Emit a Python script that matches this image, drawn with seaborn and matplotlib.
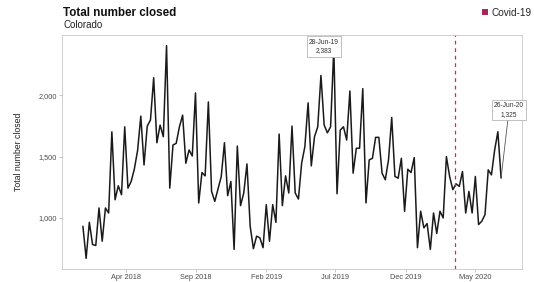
"""
Weekly total number closed in Colorado, with the Covid-19 start marked.
"""
import matplotlib

matplotlib.use("Agg")
import matplotlib.dates as mdates
import matplotlib.pyplot as plt
import matplotlib.ticker as mticker
import numpy as np
import pandas as pd
import seaborn as sns
from matplotlib.patches import Patch

OUT_PATH = "out.png"
DPI = 100

# Weekly series (week ending Friday), 29-Dec-2017 .. 26-Jun-2020
START_DATE = "2017-12-29"
CLOSED = [
    932, 670, 964, 783, 775, 1081, 810, 1081, 1040, 1702,
    1148, 1262, 1189, 1743, 1243, 1297, 1400, 1550, 1830, 1432,
    1749, 1798, 2143, 1613, 1757, 1662, 2405, 1243, 1595, 1608,
    1743, 1838, 1446, 1554, 1505, 2019, 1122, 1370, 1343, 1946,
    1216, 1135, 1235, 1337, 1613, 1181, 1297, 743, 1586, 1100,
    1203, 1440, 932, 749, 851, 838, 757, 1108, 810, 1108,
    964, 1684, 1100, 1343, 1203, 1749, 1203, 1154, 1446, 1581,
    1938, 1424, 1662, 1743, 2162, 1757, 1694, 1743, 2383, 1197,
    1716, 1743, 1635, 2035, 1365, 1568, 1568, 2054, 1122, 1473,
    1486, 1657, 1657, 1365, 1311, 1473, 1819, 1338, 1324, 1486,
    1054, 1397, 1370, 1492, 757, 1054, 919, 954, 743, 1040,
    873, 1054, 1000, 1500, 1338, 1230, 1278, 1257, 1378, 1040,
    1216, 1040, 1338, 946, 973, 1027, 1392, 1351, 1554, 1703,
    1325,
]
COVID_DATE = "2020-03-18"
X_TICKS = ["2018-04-01", "2018-09-01", "2019-02-01", "2019-07-01", "2019-12-01", "2020-05-01"]
Y_TICKS = [1000, 1500, 2000]

FONT = ["Liberation Sans", "DejaVu Sans"]
LINE_COLOR = "#1a1a1a"
COVID_COLOR = "#e0244e"
GREY = "#4d4d4d"


def main() -> None:
    sns.set_theme(style="white")
    plt.rcParams["font.family"] = FONT

    df = pd.DataFrame({
        "week": pd.date_range(START_DATE, periods=len(CLOSED), freq="7D"),
        "closed": CLOSED,
    })

    fig = plt.figure(figsize=(5.34, 2.82), dpi=DPI)
    ax = fig.add_axes([62 / 534, 1 - 269 / 282, (522 - 62) / 534, (269 - 35) / 282])

    sns.lineplot(data=df, x="week", y="closed", ax=ax, color=LINE_COLOR, linewidth=1.1)
    ax.axvline(pd.Timestamp(COVID_DATE), color=COVID_COLOR, linestyle=(0, (3, 3)), linewidth=0.9)

    ax.margins(x=0.05, y=0.05)

    # Axes styling
    for side in ax.spines.values():
        side.set_color("#c8c8c8")
        side.set_linewidth(0.6)
    ax.set_xticks([pd.Timestamp(d) for d in X_TICKS])
    ax.xaxis.set_major_formatter(mdates.DateFormatter("%b %Y"))
    ax.set_yticks(Y_TICKS)
    ax.yaxis.set_major_formatter(mticker.FuncFormatter(lambda v, _: f"{v:,.0f}"))
    ax.tick_params(axis="both", labelsize=5.3, colors="#b0b0b0", labelcolor=GREY,
                   length=2, width=0.5, pad=1.5, direction="out", bottom=True, left=True)
    ax.set_xlabel("")
    ax.set_ylabel("Total number closed", fontsize=6.3, color="#222222", labelpad=11)
    ax.grid(False)

    # Labels for the peak week and the last week
    peak = df.loc[df["week"] == pd.Timestamp("2019-06-28")].iloc[0]
    last = df.iloc[-1]
    box = dict(boxstyle="square,pad=0.35", facecolor="white", edgecolor="#b5b5b5", linewidth=0.6)
    ax.annotate(
        f"{peak['week']:%d-%b-%y}\n{peak['closed']:,}",
        xy=(peak["week"], peak["closed"]), xycoords="data",
        xytext=(324, 282 - 46.5), textcoords="figure pixels",
        ha="center", va="center", fontsize=4.8, color="#333333",
        linespacing=1.3, bbox=box, zorder=5,
    )
    ax.annotate(
        f"{last['week']:%d-%b-%y}\n{last['closed']:,}",
        xy=(last["week"], last["closed"]), xycoords="data",
        xytext=(509, 282 - 110), textcoords="figure pixels",
        ha="center", va="center", fontsize=4.8, color="#333333",
        linespacing=1.3, bbox=box, zorder=5,
        arrowprops=dict(arrowstyle="-", color="#555555", linewidth=0.6, shrinkA=0, shrinkB=1),
    )

    # Titles
    fig.text(63 / 534, 1 - 13 / 282, "Total number closed", fontsize=8.4, fontweight="bold",
             color="#111111", ha="left", va="center")
    fig.text(63 / 534, 1 - 25 / 282, "Colorado", fontsize=7.0, color="#222222",
             ha="left", va="center")

    # Legend in the top-right corner
    fig.legend(
        handles=[Patch(facecolor="#a8285a", edgecolor="none", label="Covid-19")],
        loc="center left", bbox_to_anchor=(482 / 534, 1 - 12.5 / 282),
        frameon=False, fontsize=7.2, handlelength=0.55, handleheight=0.55,
        handletextpad=0.4, borderaxespad=0, borderpad=0,
    )

    fig.savefig(OUT_PATH, dpi=DPI)
    plt.close(fig)


if __name__ == "__main__":
    main()
